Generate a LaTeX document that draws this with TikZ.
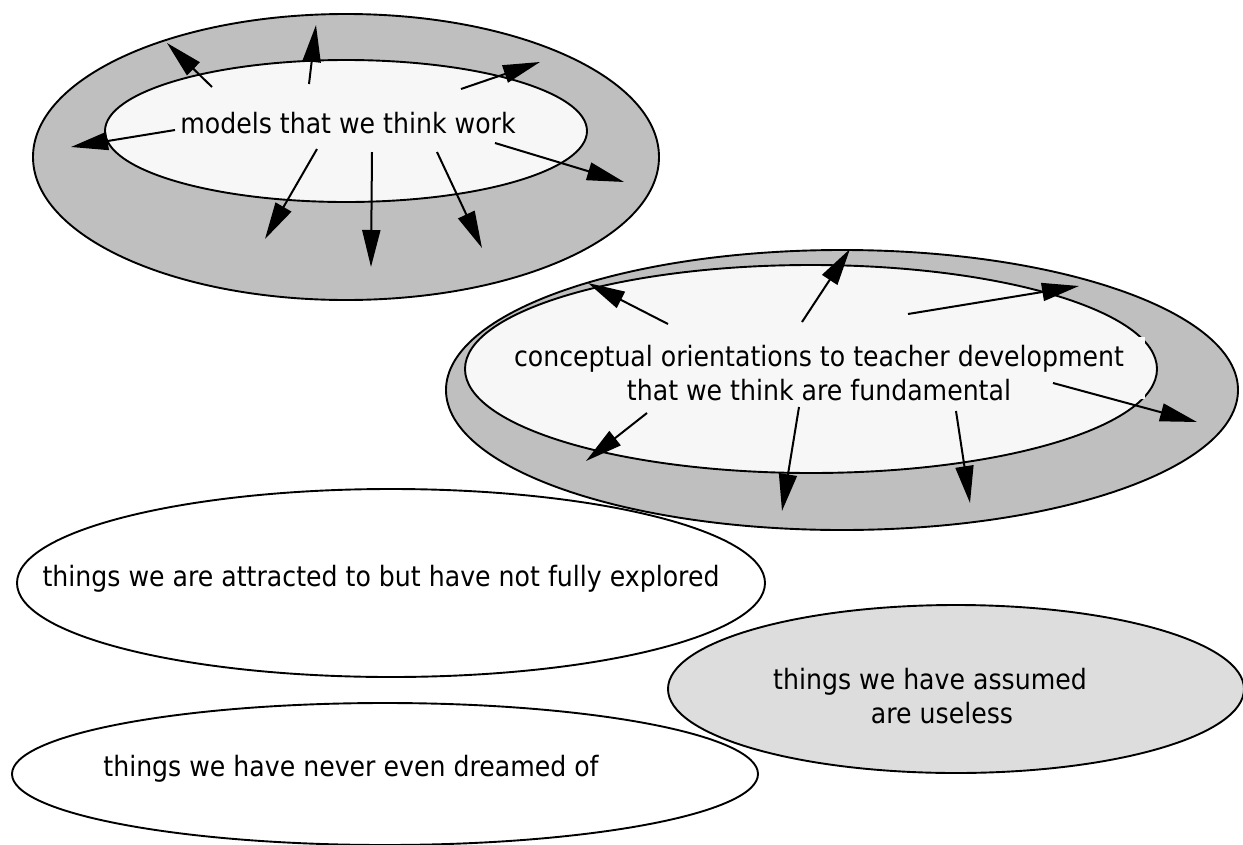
\documentclass[tikz,border=0pt]{standalone}
\usepackage{fontspec}
\newfontfamily\lblfont[FakeStretch=0.9]{DejaVu Sans}
\usetikzlibrary{shapes.geometric, arrows.meta}
\definecolor{bandgray}{HTML}{BFBFBF}
\definecolor{innerfill}{HTML}{F7F7F7}
\definecolor{palegray}{HTML}{DDDDDD}
\begin{document}
\begin{tikzpicture}[x=1pt,y=-1pt,
  region/.style={ellipse, draw=black, line width=1.9pt, inner sep=0pt},
  lbl/.style={font=\lblfont\fontsize{28}{34}\selectfont, inner sep=0pt, text=black},
  ray/.style={line width=2pt, -{Triangle[length=37pt,width=18pt]}}
]
\useasboundingbox (0,0) rectangle (1243,844);

% first ring
\node[region, fill=bandgray, minimum width=626pt, minimum height=286pt] (outerA) at (346,157) {};
\node[region, fill=innerfill, minimum width=482pt, minimum height=142pt] (innerA) at (346,131) {};
\node[lbl, anchor=base] (txtA) at (348,133) {models that we think work};

% second ring
\node[region, fill=bandgray, minimum width=792pt, minimum height=280pt] (outerB) at (842,390) {};
\node[region, fill=innerfill, minimum width=692pt, minimum height=208pt] (innerB) at (811,369) {};
\fill[innerfill] (1122,337) rectangle (1145,399);
\node[lbl, align=center, anchor=base] (txtB) at (819,400) {conceptual orientations to teacher development\\that we think are fundamental};

% arrows of the first ring
\coordinate (a1s) at (212,87);  \coordinate (a1e) at (167,43);
\coordinate (a2s) at (309,84);  \coordinate (a2e) at (316,25);
\coordinate (a3s) at (461,89);  \coordinate (a3e) at (540,62);
\coordinate (a4s) at (175,130); \coordinate (a4e) at (71,147);
\coordinate (a5s) at (495,143); \coordinate (a5e) at (624,182);
\coordinate (a6s) at (317,149); \coordinate (a6e) at (265,239);
\coordinate (a7s) at (372,152); \coordinate (a7e) at (371,267);
\coordinate (a8s) at (437,152); \coordinate (a8e) at (482,248);
\foreach \i in {1,...,8} \draw[ray] (a\i s) -- (a\i e);

% arrows of the second ring
\coordinate (b1s) at (668,324); \coordinate (b1e) at (588,283);
\coordinate (b2s) at (802,322); \coordinate (b2e) at (850,249);
\coordinate (b3s) at (908,314); \coordinate (b3e) at (1079,286);
\coordinate (b4s) at (1053,383); \coordinate (b4e) at (1197,422);
\coordinate (b5s) at (647,413); \coordinate (b5e) at (586,461);
\coordinate (b6s) at (799,407); \coordinate (b6e) at (782,511);
\coordinate (b7s) at (956,411); \coordinate (b7e) at (970,503);
\foreach \i in {1,...,7} \draw[ray] (b\i s) -- (b\i e);

% lower ellipses
\node[region, fill=white, minimum width=748pt, minimum height=188pt] (attr) at (391,583) {};
\node[lbl, anchor=base] (txtC) at (381,586) {things we are attracted to but have not fully explored};
\node[region, fill=white, minimum width=746pt, minimum height=142pt] (dream) at (385,774) {};
\node[lbl, anchor=base] (txtD) at (351,776) {things we have never even dreamed of};
\node[region, fill=palegray, minimum width=576pt, minimum height=168pt] (useless) at (956,689) {};
\node[lbl, align=center, anchor=base] (txtE) at (930,723) {things we have assumed\\\hspace*{24pt}are useless};
\end{tikzpicture}
\end{document}
